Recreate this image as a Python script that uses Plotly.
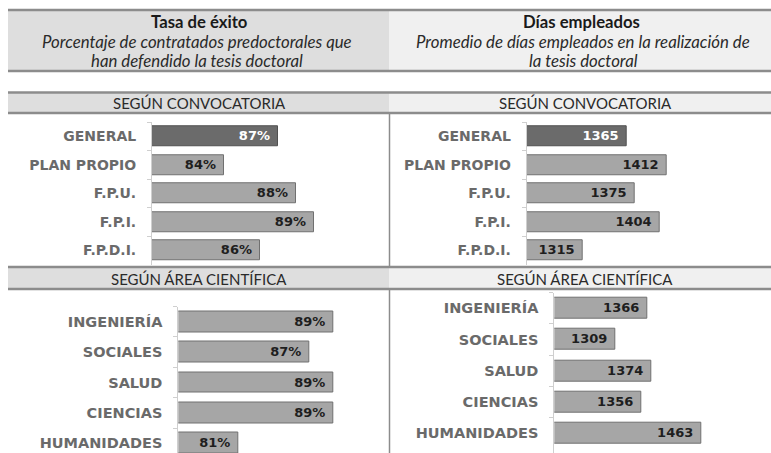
import plotly.graph_objects as go

# ---------------- data ----------------
conv_cats = ["GENERAL", "PLAN PROPIO", "F.P.U.", "F.P.I.", "F.P.D.I."]
conv_exito = [87, 84, 88, 89, 86]
conv_dias = [1365, 1412, 1375, 1404, 1315]

area_cats = ["INGENIERÍA", "SOCIALES", "SALUD", "CIENCIAS", "HUMANIDADES"]
area_exito = [89, 87, 89, 89, 81]
area_dias = [1366, 1309, 1374, 1356, 1463]

title_left = "Tasa de éxito"
sub_left = ["Porcentaje de contratados predoctorales que", "han defendido la tesis doctoral"]
title_right = "Días empleados"
sub_right = ["Promedio de días empleados en la realización de", "la tesis doctoral"]
sec1 = "SEGÚN CONVOCATORIA"
sec2 = "SEGÚN ÁREA CIENTÍFICA"

W, H = 771, 453


def px(x):
    return x / W


def py(y):
    return 1 - y / H


fig = go.Figure()

NB = "\u00a0"
# panel layout: (axis suffix, cats, vals, fmt, x0px, x1px, xstart, px_per_unit, ytop, rowpx, ybottom, bw, labelsize)
panels = [
    ("", conv_cats, conv_exito, "{}%", 152, 385, 80, 18.0, 122.25, 28.5, 264.75, 0.70, 14),
    ("2", conv_cats, conv_dias, "{}", 526.7, 768, 1250, 0.866, 122.25, 28.5, 264.75, 0.70, 14),
    ("3", area_cats, area_exito, "{}%", 178.3, 385, 76, 11.9, 306.5, 30.4, 453, 0.69, 14.5),
    ("4", area_cats, area_dias, "{}", 554.3, 768, 1200, 0.558, 292.7, 31.25, 453, 0.67, 14.5),
]

for suf, cats, vals, fmt, x0, x1, xs, k, ytop, row, ybot, bw, lsz in panels:
    first_dark = cats[0] == "GENERAL"
    n = len(vals)
    fills = (["#6b6b6b"] + ["#a6a6a6"] * (n - 1)) if first_dark else ["#a6a6a6"] * n
    lines = (["#505050"] + ["#707070"] * (n - 1)) if first_dark else ["#707070"] * n
    tcol = (["#ffffff"] + ["#1e1e1e"] * (n - 1)) if first_dark else ["#1e1e1e"] * n
    xs_name = "x" + suf
    ys_name = "y" + suf
    fig.add_trace(go.Bar(
        x=vals, y=cats, orientation="h",
        marker=dict(color=fills, line=dict(color=lines, width=1)),
        width=bw,
        text=[fmt.format(v) + NB for v in vals],
        textposition="inside", insidetextanchor="end",
        constraintext="none", textangle=0,
        textfont=dict(family="DejaVu Sans", size=13, color=tcol, weight="bold"),
        xaxis=xs_name, yaxis=ys_name, showlegend=False, hoverinfo="skip",
    ))
    xmax = xs + (x1 - x0) / k
    yr_bottom = -0.5 + (ybot - ytop) / row
    xa = dict(domain=[px(x0), px(x1)], range=[xs, xmax], visible=False,
              anchor=ys_name, fixedrange=True)
    ya = dict(domain=[py(ybot), py(ytop)], type="category", range=[yr_bottom, -0.5],
              anchor=xs_name, showline=True, linecolor="#cfcfcf", linewidth=1,
              ticks="outside", tickson="boundaries", ticklen=4, tickcolor="#cfcfcf",
              ticklabelstandoff=12, showgrid=False, fixedrange=True,
              tickfont=dict(family="DejaVu Sans", size=lsz, color="#6a6a6a", weight="bold"))
    fig.layout["xaxis" + suf] = xa
    fig.layout["yaxis" + suf] = ya

shapes = []
lc = "#8c8c8c"


def header_box(y0, y1):
    shapes.append(dict(type="rect", xref="paper", yref="paper", x0=px(8), x1=px(389),
                       y0=py(y1), y1=py(y0), fillcolor="#dedede", line=dict(width=0), layer="below"))
    shapes.append(dict(type="rect", xref="paper", yref="paper", x0=px(389), x1=px(771),
                       y0=py(y1), y1=py(y0), fillcolor="#f0f0f0", line=dict(width=0), layer="below"))
    for yy in (y0, y1):
        shapes.append(dict(type="line", xref="paper", yref="paper", x0=px(8), x1=px(771),
                           y0=py(yy), y1=py(yy), line=dict(color=lc, width=2.5)))


header_box(10, 71)
header_box(92.5, 113)
header_box(267, 289)
# vertical dividers
for ya_, yb_ in ((113, 267), (289, 453)):
    shapes.append(dict(type="line", xref="paper", yref="paper", x0=px(389.5), x1=px(389.5),
                       y0=py(yb_), y1=py(ya_), line=dict(color="#8c8c8c", width=1.5)))

ann = []
ft = "Lato"


def text(x, y, s, size, bold=False, italic=False, color="#1a1a1a"):
    ann.append(dict(xref="paper", yref="paper", x=px(x), y=py(y), text=s, showarrow=False,
                    xanchor="center", yanchor="middle",
                    font=dict(family=ft, size=size, color=color,
                              weight="bold" if bold else "normal",
                              style="italic" if italic else "normal")))


text(199, 22, title_left, 16.7, bold=True)
text(197, 41.5, sub_left[0], 16.8, italic=True, color="#2a2a2a")
text(197, 60, sub_left[1], 16.8, italic=True, color="#2a2a2a")
text(581, 22, title_right, 16.7, bold=True)
text(583, 41.5, sub_right[0], 16.8, italic=True, color="#2a2a2a")
text(583, 60, sub_right[1], 16.8, italic=True, color="#2a2a2a")
text(199, 103, sec1, 15, color="#2a2a2a")
text(585, 103, sec1, 15, color="#2a2a2a")
text(199, 278.5, sec2, 15, color="#2a2a2a")
text(585, 278.5, sec2, 15, color="#2a2a2a")

fig.update_layout(width=W, height=H, margin=dict(l=0, r=0, t=0, b=0),
                  paper_bgcolor="white", plot_bgcolor="rgba(0,0,0,0)",
                  shapes=shapes, annotations=ann, bargap=0)

fig.write_html("out.html", config={"displayModeBar": False},
               post_script="document.body.style.margin='0';")
